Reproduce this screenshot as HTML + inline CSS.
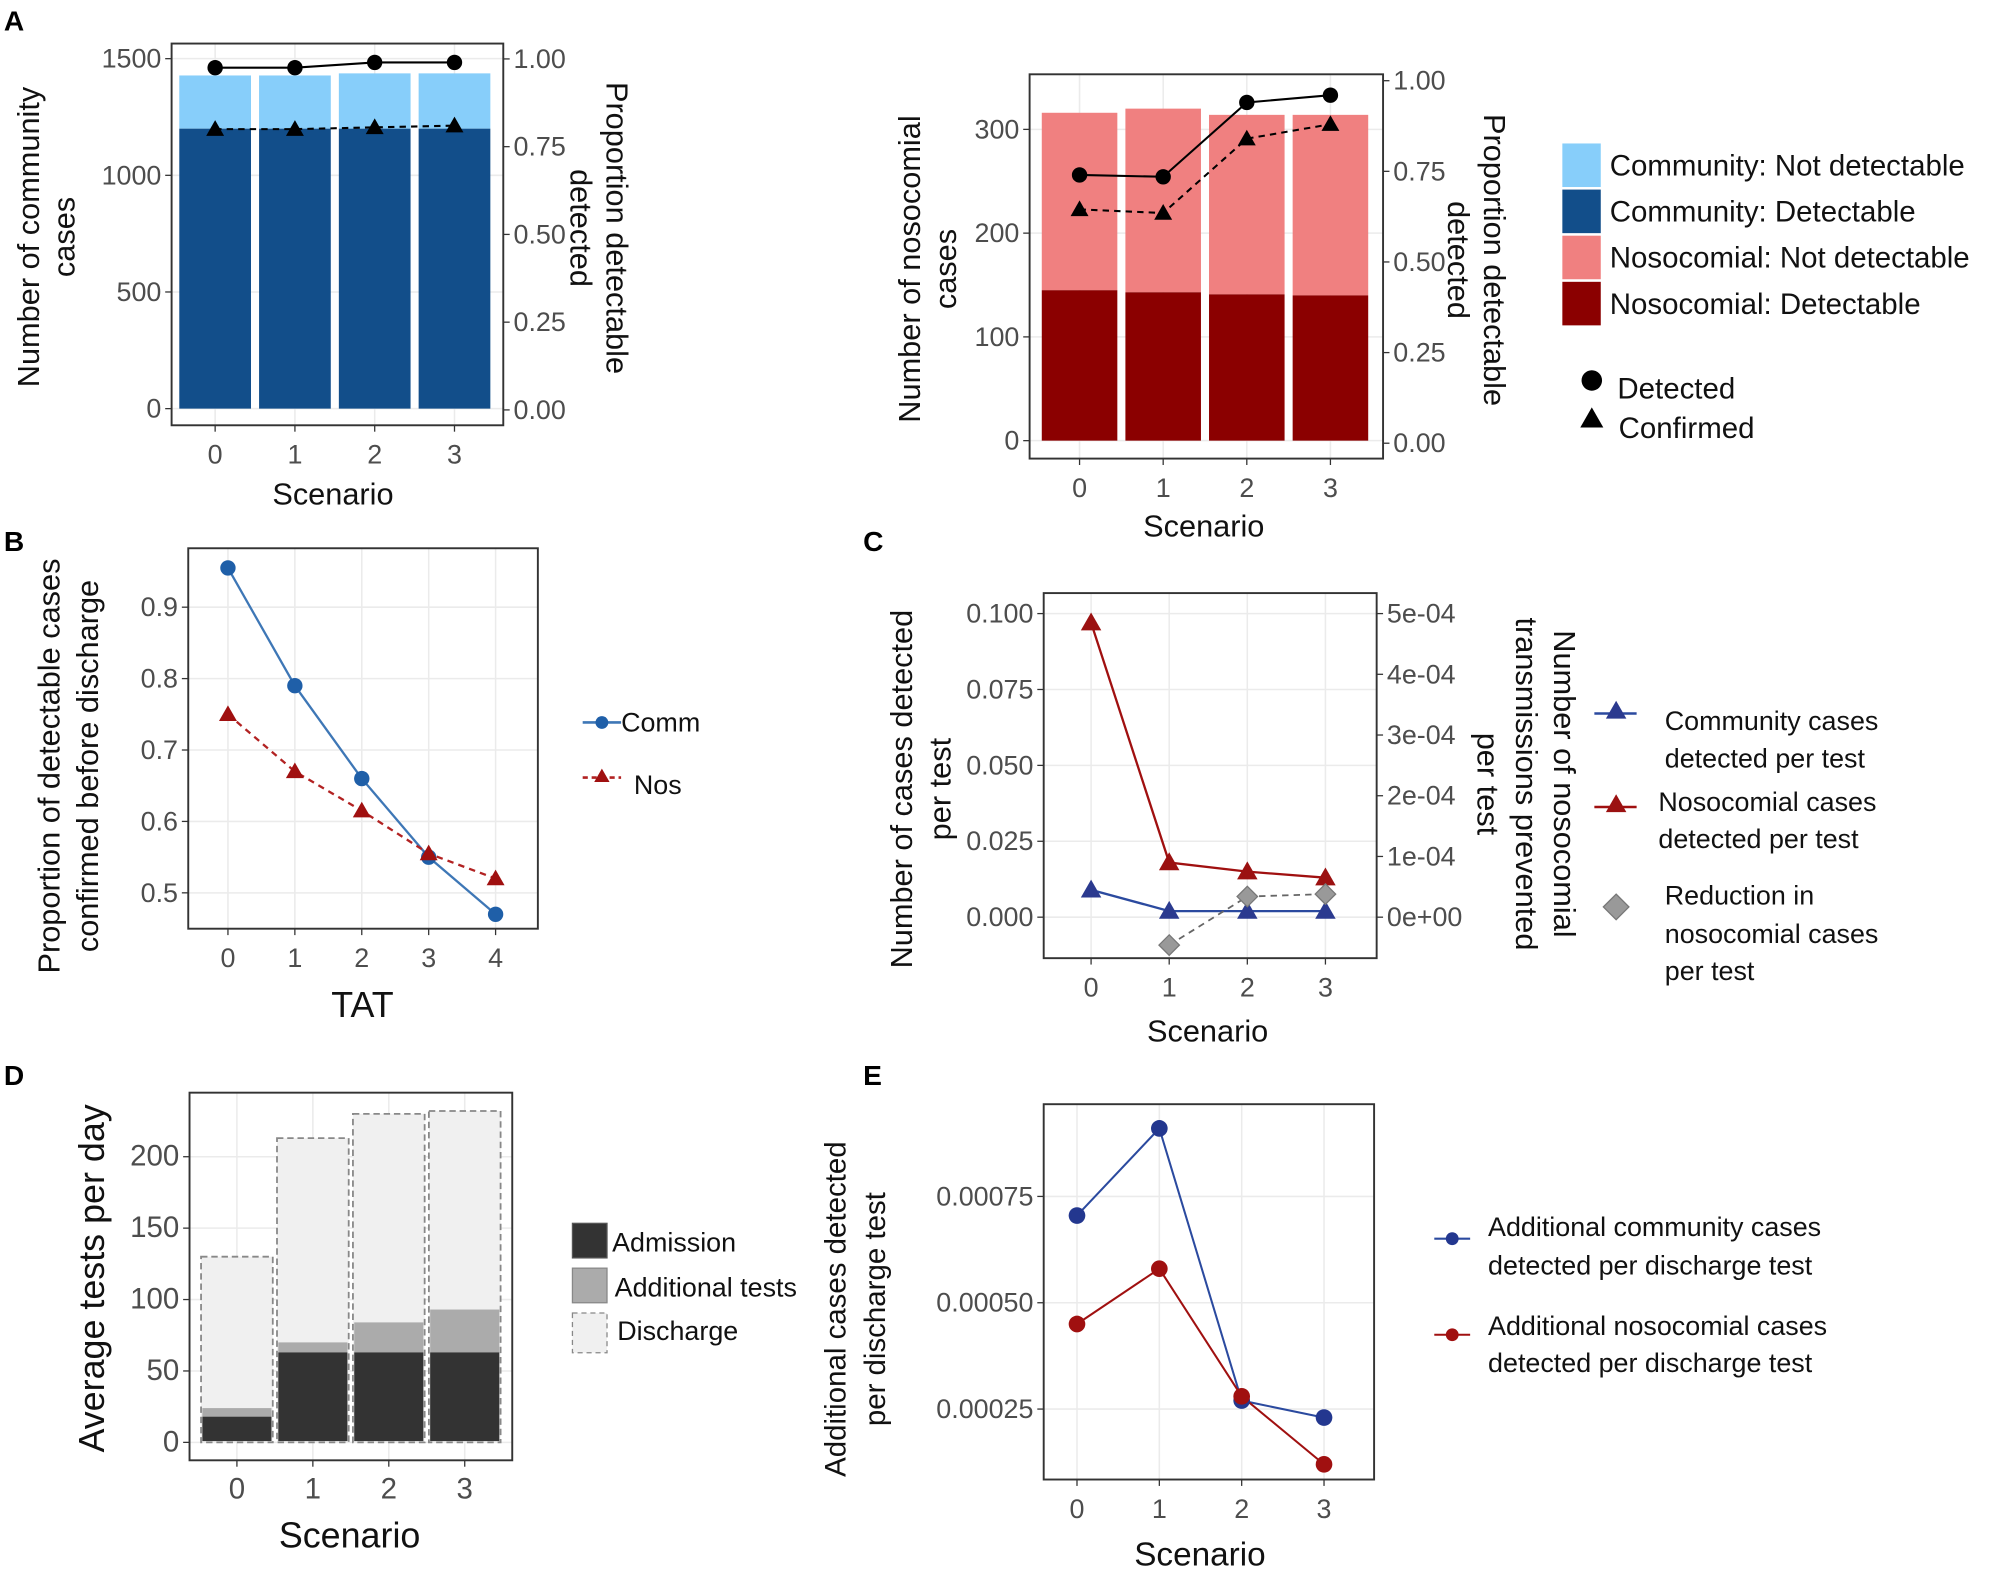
<!DOCTYPE html>
<html><head><meta charset="utf-8"><style>
html,body{margin:0;padding:0;background:#fff;}
svg{display:block;font-family:"Liberation Sans",sans-serif;}
</style></head><body>
<svg id="fig" xmlns="http://www.w3.org/2000/svg" width="2008" height="1582" viewBox="0 0 1568 1235" preserveAspectRatio="none"></svg>
<script>
// ---------- data ----------
const scenarios = ["0","1","2","3"];
// Panel A left
const commTotal = [1428, 1428, 1437, 1437];
const commDetectable = [1200, 1200, 1200, 1200];
const commDetectedProp = [0.975, 0.975, 0.99, 0.99];
const commConfirmedProp = [0.80, 0.80, 0.805, 0.81];
const aLeftTicks = [0, 500, 1000, 1500];
const propTicks = [0, 0.25, 0.5, 0.75, 1.0];
const propTickLabels = ["0.00","0.25","0.50","0.75","1.00"];
// Panel A right
const nosTotal = [316, 320, 314, 314];
const nosDetectable = [145, 143, 141, 140];
const nosDetectedProp = [0.74, 0.735, 0.94, 0.96];
const nosConfirmedProp = [0.645, 0.635, 0.84, 0.88];
const aRightTicks = [0, 100, 200, 300];
// Panel B
const tat = ["0","1","2","3","4"];
const bComm = [0.955, 0.79, 0.66, 0.55, 0.47];
const bNos = [0.75, 0.67, 0.615, 0.555, 0.52];
const bTicks = [0.5, 0.6, 0.7, 0.8, 0.9];
// Panel C
const cComm = [0.009, 0.002, 0.002, 0.002];
const cNos = [0.097, 0.018, 0.015, 0.013];
const cReduction = [null, -0.000046, 0.000034, 0.000038];
const cLeftTicks = [0, 0.025, 0.05, 0.075, 0.1];
const cLeftLabels = ["0.000","0.025","0.050","0.075","0.100"];
const cRightTicks = [0, 0.0001, 0.0002, 0.0003, 0.0004, 0.0005];
const cRightLabels = ["0e+00","1e-04","2e-04","3e-04","4e-04","5e-04"];
// Panel D
const dAdmission = [18, 63, 63, 63];
const dAdditional = [6, 7, 21, 30];
const dDischarge = [106, 143, 146, 139];
const dTicks = [0, 50, 100, 150, 200];
// Panel E
const eComm = [0.000705, 0.00091, 0.00027, 0.00023];
const eNos = [0.00045, 0.00058, 0.00028, 0.00012];
const eTicks = [0.00025, 0.0005, 0.00075];
const eLabels = ["0.00025","0.00050","0.00075"];

// ---------- helpers ----------
const NS = "http://www.w3.org/2000/svg";
const svg = document.getElementById("fig");
function mk(tag, attrs, name, parent, text, inter) {
  const el = document.createElementNS(NS, tag);
  for (const k in attrs) el.setAttribute(k, attrs[k]);
  
  
  if (text !== undefined) el.textContent = text;
  (parent || svg).appendChild(el);
  return el;
}
function lin(d0, d1, r0, r1) { return v => r0 + (v - d0) * (r1 - r0) / (d1 - d0); }
const TICKC = "#4d4d4d";
function frame(box, name) {
  const g = mk("g", {}, name);
  mk("rect", {x: box.x0, y: box.y0, width: box.x1 - box.x0, height: box.y1 - box.y0, fill: "#fff"}, "plot-background", g);
  return g;
}
function border(g, box) {
  mk("rect", {x: box.x0, y: box.y0, width: box.x1 - box.x0, height: box.y1 - box.y0, fill: "none", stroke: "#333", "stroke-width": 1.5}, "plot-border", g);
}
function xAxis(g, box, cats, xs, fs) {
  cats.forEach((c, i) => {
    const x = xs(i);
    mk("line", {x1: x, x2: x, y1: box.y0, y2: box.y1, stroke: "#ebebeb", "stroke-width": 1.2}, "x-gridline", g);
    mk("line", {x1: x, x2: x, y1: box.y1, y2: box.y1 + 5, stroke: "#333"}, "x-tick", g);
    mk("text", {x: x, y: box.y1 + 30, "text-anchor": "middle", "font-size": fs || 21, fill: TICKC}, "x-tick-label", g, c);
  });
}
function yAxisLeft(g, box, ticks, labels, ys, fs) {
  ticks.forEach((t, i) => {
    const y = ys(t);
    mk("line", {x1: box.x0, x2: box.x1, y1: y, y2: y, stroke: "#ebebeb", "stroke-width": 1.2}, "y-gridline", g);
    mk("line", {x1: box.x0 - 5, x2: box.x0, y1: y, y2: y, stroke: "#333"}, "y-tick", g);
    mk("text", {x: box.x0 - 8, y: y + 7, "text-anchor": "end", "font-size": fs || 21, fill: TICKC}, "y-tick-label", g, labels[i]);
  });
}
function yAxisRight(g, box, ticks, labels, ys) {
  ticks.forEach((t, i) => {
    const y = ys(t);
    mk("line", {x1: box.x1, x2: box.x1 + 5, y1: y, y2: y, stroke: "#333"}, "y2-tick", g);
    mk("text", {x: box.x1 + 8, y: y + 7, "text-anchor": "start", "font-size": 21, fill: TICKC}, "y2-tick-label", g, labels[i]);
  });
}
function vtitle(lines, xs, cy, rot, fs, name) {
  lines.forEach((l, i) => {
    mk("text", {x: xs[i], y: cy, transform: `rotate(${rot} ${xs[i]} ${cy})`, "text-anchor": "middle", "font-size": fs || 24, fill: "#111", "dominant-baseline": "middle"}, name, svg, l);
  });
}
function htitle(txt, x, y, fs, name) {
  mk("text", {x: x, y: y, "text-anchor": "middle", "font-size": fs || 24, fill: "#111"}, name, svg, txt);
}
function poly(g, xs, ys, vals, color, dash, name, width) {
  const pts = [];
  vals.forEach((v, i) => { if (v !== null) pts.push(xs(i) + "," + ys(v)); });
  mk("polyline", {points: pts.join(" "), fill: "none", stroke: color, "stroke-width": width || 1.6, "stroke-dasharray": dash || "none"}, name, g);
}
function circ(g, x, y, r, color, name) { mk("circle", {cx: x, cy: y, r: r, fill: color}, name, g); }
function tri(g, x, y, s, color, name) {
  mk("polygon", {points: `${x},${y - s} ${x - s},${y + s * 0.75} ${x + s},${y + s * 0.75}`, fill: color}, name, g);
}
function diamond(g, x, y, s, color, name) {
  mk("polygon", {points: `${x},${y - s} ${x + s},${y} ${x},${y + s} ${x - s},${y}`, fill: color, stroke: "#777", "stroke-width": 1}, name, g);
}
function letter(t, x, y) { mk("text", {x: x, y: y, "font-size": 22, "font-weight": "bold", fill: "#000"}, "panel-label-" + t.toLowerCase(), svg, t); }

letter("A", 3, 24); letter("B", 3, 430); letter("C", 674, 430); letter("D", 3, 847); letter("E", 674, 847);

// ---------- Panel A left ----------
(function () {
  const box = {x0: 134, x1: 393, y0: 34, y1: 332};
  const g = frame(box, "panel-a-community-chart");
  const xs = i => 168 + i * 62.3;
  const ys = lin(0, 1500, 319, 45.8);
  const yp = lin(0, 1, 320, 46);
  xAxis(g, box, scenarios, xs);
  yAxisLeft(g, box, aLeftTicks, aLeftTicks.map(String), ys);
  yAxisRight(g, box, propTicks, propTickLabels, yp);
  const bw = 56;
  scenarios.forEach((s, i) => {
    mk("rect", {x: xs(i) - bw / 2, y: ys(commTotal[i]), width: bw, height: ys(commDetectable[i]) - ys(commTotal[i]), fill: "#87CEFA"}, "bar-community-not-detectable", g);
    mk("rect", {x: xs(i) - bw / 2, y: ys(commDetectable[i]), width: bw, height: ys(0) - ys(commDetectable[i]), fill: "#124E8A"}, "bar-community-detectable", g);
  });
  poly(g, xs, yp, commDetectedProp, "#000", null, "detected-line");
  poly(g, xs, yp, commConfirmedProp, "#000", "5,4", "confirmed-line");
  commDetectedProp.forEach((v, i) => circ(g, xs(i), yp(v), 6, "#000", "detected-point"));
  commConfirmedProp.forEach((v, i) => tri(g, xs(i), yp(v), 7, "#000", "confirmed-point"));
  border(g, box);
})();
vtitle(["Number of community", "cases"], [24, 52], 185, -90, 24, "y-axis-title");
vtitle(["Proportion detectable", "detected"], [480, 452], 178, 90, 24, "y2-axis-title");
htitle("Scenario", 260, 394, 24, "x-axis-title");

// ---------- Panel A right ----------
(function () {
  const box = {x0: 804, x1: 1080, y0: 58, y1: 358};
  const g = frame(box, "panel-a-nosocomial-chart");
  const xs = i => 843 + i * 65.3;
  const ys = lin(0, 300, 344, 101);
  const yp = lin(0, 1, 346, 63);
  xAxis(g, box, scenarios, xs);
  yAxisLeft(g, box, aRightTicks, aRightTicks.map(String), ys);
  yAxisRight(g, box, propTicks, propTickLabels, yp);
  const bw = 59;
  scenarios.forEach((s, i) => {
    mk("rect", {x: xs(i) - bw / 2, y: ys(nosTotal[i]), width: bw, height: ys(nosDetectable[i]) - ys(nosTotal[i]), fill: "#F08080"}, "bar-nosocomial-not-detectable", g);
    mk("rect", {x: xs(i) - bw / 2, y: ys(nosDetectable[i]), width: bw, height: ys(0) - ys(nosDetectable[i]), fill: "#8B0000"}, "bar-nosocomial-detectable", g);
  });
  poly(g, xs, yp, nosDetectedProp, "#000", null, "detected-line");
  poly(g, xs, yp, nosConfirmedProp, "#000", "5,4", "confirmed-line");
  nosDetectedProp.forEach((v, i) => circ(g, xs(i), yp(v), 6, "#000", "detected-point"));
  nosConfirmedProp.forEach((v, i) => tri(g, xs(i), yp(v), 7, "#000", "confirmed-point"));
  border(g, box);
})();
vtitle(["Number of nosocomial", "cases"], [712, 740], 210, -90, 24, "y-axis-title");
vtitle(["Proportion detectable", "detected"], [1165, 1137], 203, 90, 24, "y2-axis-title");
htitle("Scenario", 940, 419, 24, "x-axis-title");

// Legend A
(function () {
  const g = mk("g", {}, "legend-panel-a");
  const items = [["Community: Not detectable", "#87CEFA"], ["Community: Detectable", "#124E8A"], ["Nosocomial: Not detectable", "#F08080"], ["Nosocomial: Detectable", "#8B0000"]];
  items.forEach((it, i) => {
    const y = 112 + i * 36;
    mk("rect", {x: 1220, y: y, width: 30, height: 34, fill: it[1]}, "legend-swatch", g);
    mk("text", {x: 1257, y: y + 25, "font-size": 23, fill: "#111"}, "legend-entry", g, it[0]);
  });
  circ(g, 1243, 297, 8, "#000", "legend-detected-marker");
  mk("text", {x: 1263, y: 311, "font-size": 23, fill: "#111"}, "legend-entry", g, "Detected");
  tri(g, 1243, 327, 9, "#000", "legend-confirmed-marker");
  mk("text", {x: 1264, y: 342, "font-size": 23, fill: "#111"}, "legend-entry", g, "Confirmed");
})();

// ---------- Panel B ----------
(function () {
  const box = {x0: 147, x1: 420, y0: 428, y1: 725};
  const g = frame(box, "panel-b-chart");
  const xs = i => 178 + i * 52.25;
  const ys = lin(0.5, 0.9, 697, 474);
  xAxis(g, box, tat, xs);
  yAxisLeft(g, box, bTicks, bTicks.map(v => v.toFixed(1)), ys);
  poly(g, xs, ys, bComm, "#3E77B6", null, "comm-line", 1.8);
  poly(g, xs, ys, bNos, "#B22222", "5,4", "nos-line", 1.8);
  bComm.forEach((v, i) => circ(g, xs(i), ys(v), 6, "#1F5FA8", "comm-point"));
  bNos.forEach((v, i) => tri(g, xs(i), ys(v), 7, "#A01010", "nos-point"));
  border(g, box);
  const lg = mk("g", {}, "legend-panel-b");
  mk("line", {x1: 455, x2: 485, y1: 564, y2: 564, stroke: "#3E77B6", "stroke-width": 2}, "legend-comm-line", lg);
  circ(lg, 470, 564, 5, "#1F5FA8", "legend-comm-marker");
  mk("text", {x: 485, y: 571, "font-size": 21, fill: "#111"}, "legend-entry", lg, "Comm");
  mk("line", {x1: 455, x2: 485, y1: 607, y2: 607, stroke: "#B22222", "stroke-width": 2, "stroke-dasharray": "4,3"}, "legend-nos-line", lg);
  tri(lg, 470, 606, 6, "#A01010", "legend-nos-marker");
  mk("text", {x: 495, y: 620, "font-size": 21, fill: "#111"}, "legend-entry", lg, "Nos");
})();
vtitle(["Proportion of detectable cases", "confirmed before discharge"], [40, 70], 598, -90, 24, "y-axis-title");
htitle("TAT", 283, 794, 28, "x-axis-title");

// ---------- Panel C ----------
(function () {
  const box = {x0: 815, x1: 1075, y0: 463, y1: 748};
  const g = frame(box, "panel-c-chart");
  const xs = i => 852 + i * 61;
  const ys = lin(0, 0.1, 716, 479);
  const yr = lin(0, 0.0005, 716, 479);
  xAxis(g, box, scenarios, xs);
  yAxisLeft(g, box, cLeftTicks, cLeftLabels, ys);
  yAxisRight(g, box, cRightTicks, cRightLabels, yr);
  poly(g, xs, ys, cNos, "#A01010", null, "nosocomial-line", 1.8);
  poly(g, xs, ys, cComm, "#2B4A9F", null, "community-line", 1.8);
  poly(g, xs, yr, cReduction, "#666", "5,4", "reduction-line", 1.4);
  cNos.forEach((v, i) => tri(g, xs(i), ys(v), 8, "#9B1111", "nosocomial-point"));
  cComm.forEach((v, i) => tri(g, xs(i), ys(v), 8, "#2B3A8F", "community-point"));
  cReduction.forEach((v, i) => { if (v !== null) diamond(g, xs(i), yr(v), 8, "#999", "reduction-point"); });
  border(g, box);
  const lg = mk("g", {}, "legend-panel-c");
  mk("line", {x1: 1245, x2: 1278, y1: 557, y2: 557, stroke: "#2B4A9F", "stroke-width": 2}, "legend-community-line", lg);
  tri(lg, 1262, 555, 8, "#2B3A8F", "legend-community-marker");
  mk("text", {x: 1300, y: 570, "font-size": 21, fill: "#111"}, "legend-entry", lg, "Community cases");
  mk("text", {x: 1300, y: 599, "font-size": 21, fill: "#111"}, "legend-entry", lg, "detected per test");
  mk("line", {x1: 1245, x2: 1278, y1: 630, y2: 630, stroke: "#A01010", "stroke-width": 2}, "legend-nosocomial-line", lg);
  tri(lg, 1262, 628, 8, "#9B1111", "legend-nosocomial-marker");
  mk("text", {x: 1295, y: 633, "font-size": 21, fill: "#111"}, "legend-entry", lg, "Nosocomial cases");
  mk("text", {x: 1295, y: 662, "font-size": 21, fill: "#111"}, "legend-entry", lg, "detected per test");
  diamond(lg, 1262, 708, 10, "#999", "legend-reduction-marker");
  mk("text", {x: 1300, y: 706, "font-size": 21, fill: "#111"}, "legend-entry", lg, "Reduction in");
  mk("text", {x: 1300, y: 736, "font-size": 21, fill: "#111"}, "legend-entry", lg, "nosocomial cases");
  mk("text", {x: 1300, y: 765, "font-size": 21, fill: "#111"}, "legend-entry", lg, "per test");
})();
vtitle(["Number of cases detected", "per test"], [706, 736], 616, -90, 24, "y-axis-title");
vtitle(["Number of nosocomial", "transmissions prevented", "per test"], [1220, 1190, 1160], 612, 90, 24, "y2-axis-title");
htitle("Scenario", 943, 813, 24, "x-axis-title");

// ---------- Panel D ----------
(function () {
  const box = {x0: 148, x1: 400, y0: 853, y1: 1140};
  const g = frame(box, "panel-d-chart");
  const xs = i => 185 + i * 59.3;
  const ys = lin(0, 200, 1126, 903);
  xAxis(g, box, scenarios, xs, 23);
  yAxisLeft(g, box, dTicks, dTicks.map(String), ys, 23);
  const bw = 56;
  scenarios.forEach((s, i) => {
    const a = dAdmission[i], b = a + dAdditional[i], c = b + dDischarge[i];
    mk("rect", {x: xs(i) - bw / 2, y: ys(c), width: bw, height: ys(0) - ys(c), fill: "#f0f0f0", stroke: "#888", "stroke-width": 1.4, "stroke-dasharray": "5,3"}, "bar-discharge", g);
    mk("rect", {x: xs(i) - bw / 2 + 1, y: ys(b), width: bw - 2, height: ys(a) - ys(b), fill: "#ababab"}, "bar-additional-tests", g);
    mk("rect", {x: xs(i) - bw / 2 + 1, y: ys(a), width: bw - 2, height: ys(0) - ys(a) - 1, fill: "#333"}, "bar-admission", g);
  });
  border(g, box);
  const lg = mk("g", {}, "legend-panel-d");
  mk("rect", {x: 447, y: 955, width: 27, height: 27, fill: "#333", stroke: "#555"}, "legend-swatch", lg);
  mk("text", {x: 478, y: 977, "font-size": 21, fill: "#111"}, "legend-entry", lg, "Admission");
  mk("rect", {x: 447, y: 990, width: 27, height: 27, fill: "#ababab", stroke: "#888"}, "legend-swatch", lg);
  mk("text", {x: 480, y: 1012, "font-size": 21, fill: "#111"}, "legend-entry", lg, "Additional tests");
  mk("rect", {x: 447, y: 1025, width: 27, height: 31, fill: "#f0f0f0", stroke: "#888", "stroke-dasharray": "4,3"}, "legend-swatch", lg);
  mk("text", {x: 482, y: 1046, "font-size": 21, fill: "#111"}, "legend-entry", lg, "Discharge");
})();
vtitle(["Average tests per day"], [74], 998, -90, 28, "y-axis-title");
htitle("Scenario", 273, 1208, 28, "x-axis-title");

// ---------- Panel E ----------
(function () {
  const box = {x0: 815, x1: 1073, y0: 862, y1: 1155};
  const g = frame(box, "panel-e-chart");
  const xs = i => 841 + i * 64.3;
  const ys = lin(0.00025, 0.00075, 1100, 934);
  xAxis(g, box, scenarios, xs);
  yAxisLeft(g, box, eTicks, eLabels, ys);
  poly(g, xs, ys, eComm, "#2B4A9F", null, "community-line", 1.6);
  poly(g, xs, ys, eNos, "#A01010", null, "nosocomial-line", 1.6);
  eComm.forEach((v, i) => circ(g, xs(i), ys(v), 6.5, "#23378F", "community-point"));
  eNos.forEach((v, i) => circ(g, xs(i), ys(v), 6.5, "#A01010", "nosocomial-point"));
  border(g, box);
  const lg = mk("g", {}, "legend-panel-e");
  mk("line", {x1: 1120, x2: 1148, y1: 967, y2: 967, stroke: "#2B4A9F", "stroke-width": 1.6}, "legend-community-line", lg);
  circ(lg, 1134, 967, 5, "#23378F", "legend-community-marker");
  mk("text", {x: 1162, y: 965, "font-size": 21, fill: "#111"}, "legend-entry", lg, "Additional community  cases");
  mk("text", {x: 1162, y: 995, "font-size": 21, fill: "#111"}, "legend-entry", lg, "detected per discharge test");
  mk("line", {x1: 1120, x2: 1148, y1: 1042, y2: 1042, stroke: "#A01010", "stroke-width": 1.6}, "legend-nosocomial-line", lg);
  circ(lg, 1134, 1042, 5, "#A01010", "legend-nosocomial-marker");
  mk("text", {x: 1162, y: 1042, "font-size": 21, fill: "#111"}, "legend-entry", lg, "Additional nosocomial cases");
  mk("text", {x: 1162, y: 1071, "font-size": 21, fill: "#111"}, "legend-entry", lg, "detected per discharge test");
})();
vtitle(["Additional cases detected", "per discharge test"], [654, 685], 1022, -90, 23, "y-axis-title");
htitle("Scenario", 937, 1222, 26, "x-axis-title");
</script>
</body></html>
